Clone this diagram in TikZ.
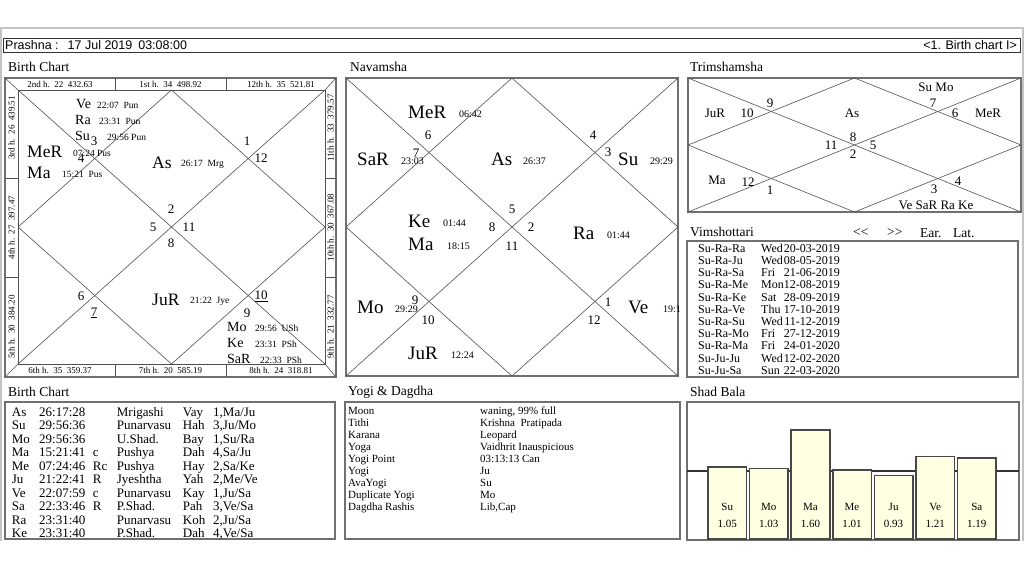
\documentclass[tikz,border=0pt]{standalone}
\usepackage{fontspec}
\setmainfont{Liberation Serif}
\newfontfamily\barfont{Liberation Sans}
\definecolor{winframe}{HTML}{C4C4C4}
\definecolor{boxgray}{HTML}{707070}
\definecolor{chartline}{HTML}{505050}
\definecolor{balafill}{HTML}{FFFFE2}
\newcommand{\fsz}[2]{\fontsize{#1}{#2}\selectfont}

\begin{document}
\begin{tikzpicture}[
  x=1pt, y=-1pt,
  txt/.style={inner sep=0pt, anchor=west},
  paneltitle/.style={txt, font=\fsz{13.5}{15}},
  hnum/.style={inner sep=0pt, font=\fsz{13}{13}},
  grah/.style={txt, font=\fsz{14}{14}},
  biggrah/.style={txt, font=\fsz{17.5}{17.5}},
  navgrah/.style={txt, font=\fsz{19}{19}},
  deg/.style={txt, font=\fsz{9.5}{9.5}},
  strip/.style={inner sep=0pt, font=\fsz{9}{9}},
  cell/.style={inner sep=0pt, anchor=base west},
  tabbox/.style={draw=boxgray, line width=1.3pt},
  chartbox/.style={draw=boxgray, line width=2pt},
  cline/.style={draw=chartline, line width=0.6pt},
  balabar/.style={draw=black!72, line width=1.6pt, fill=balafill}
]
\useasboundingbox (0,0) rectangle (1024,576);
% ---- window frame and top bar ----
\draw[winframe, line width=1.5pt] (1,541) -- (1,28) -- (1023,28) -- (1023,541);
\draw[black!80, line width=0.8pt] (3,38) rectangle (1020,52);
\node[txt, font=\barfont\fsz{12.5}{12.5}] (prashna) at (5,45)
  {Prashna :\hspace{9pt}17 Jul 2019\hspace{6pt}03:08:00};
\node[txt, anchor=east, font=\barfont\fsz{12.5}{12.5}] (chartsel) at (1017,45)
  {<1. Birth chart I>};

% ---- birth chart (rasi) ----
\node[paneltitle] (d1title) at (8,67) {Birth Chart};
\draw[chartbox] (5,78) rectangle (336,377);
\draw[draw=chartline, line width=0.9pt] (18,90) rectangle (325,364);
\draw[cline] (5,78) -- (18,90) (336,78) -- (325,90)
  (5,377) -- (18,364) (336,377) -- (325,364);
\draw[cline] (115,78) -- (115,90) (226,78) -- (226,90)
  (115,364) -- (115,377) (226,364) -- (226,377);
\draw[cline] (5,178) -- (18,178) (5,277) -- (18,277)
  (325,178) -- (336,178) (325,277) -- (336,277);
\draw[cline] (18,90) -- (325,364) (325,90) -- (18,364);
\draw[cline] (171.5,90) -- (325,227) -- (171.5,364) -- (18,227) -- cycle;
\foreach \nm/\x/\t in {2/60/2nd h.~~22~~432.63, 1/170.5/1st h.~~34~~498.92,
    12/281/12th h.~~35~~521.81}
  \node[strip] (d1top\nm) at (\x,84.5) {\t};
\foreach \nm/\x/\t in {6/60/6th h.~~35~~359.37, 7/170.5/7th h.~~20~~585.19,
    8/281/8th h.~~24~~318.81}
  \node[strip] (d1bot\nm) at (\x,370.5) {\t};
\foreach \nm/\y/\t in {3/128/3rd h.~~26~~439.51, 4/227.5/4th h.~~27~~397.47,
    5/327/5th h.~~30~~384.20}
  \node[strip, rotate=90] (d1lft\nm) at (11.5,\y) {\t};
\foreach \nm/\y/\t in {11/128/11th h.~~33~~379.57, 10/227.5/10th h.~~30~~367.08,
    9/327/9th h.~~21~~332.77}
  \node[strip, rotate=90] (d1rgt\nm) at (330.5,\y) {\t};
\foreach \nm/\x/\y/\t in {1/247/141/1, 12/261/158/12, 3/94/141/3, 4/81/158/4,
    2/171/209/2, 5/153/227/5, 11/189/227/11, 8/171/243/8,
    6/81/296/6, 7/94/313/\underline{7}, 10/261/296/\underline{10}, 9/247/313/9}
  \node[hnum] (d1h\nm) at (\x,\y) {\t};
\foreach \nm/\x/\y/\g/\dx/\d in {ve/76/104/Ve/97/22:07~~Pun,
    ra/75/120/Ra/99/23:31~~Pun, su/75/136/Su/107/29:56~Pun,
    mo/227/327/Mo/255/29:56~~USh, ke/227/343/Ke/255/23:31~~PSh,
    sa/227/359/SaR/260/22:33~~PSh}
{
  \node[grah] (d1\nm) at (\x,\y) {\g};
  \node[deg] (d1\nm deg) at (\dx,\y+1) {\d};
}
\foreach \nm/\x/\y/\g/\dx/\d in {me/27/152/MeR/73/07:24~Pus,
    ma/27/173/Ma/62/15:21~~Pus, as/152/163/As/181/26:17~~Mrg,
    ju/152/300/JuR/190/21:22~~Jye}
{
  \node[biggrah] (d1\nm) at (\x,\y) {\g};
  \node[deg] (d1\nm deg) at (\dx,\y+1) {\d};
}

% ---- navamsha ----
\node[paneltitle] (d9title) at (350,67) {Navamsha};
\draw[chartbox] (346,78) rectangle (678,376);
\draw[cline] (346,78) -- (678,376) (678,78) -- (346,376);
\draw[cline] (512,78) -- (678,227) -- (512,376) -- (346,227) -- cycle;
\foreach \nm/\x/\y in {6/428/135, 7/416/153, 4/593/135, 3/608/152,
    5/512/209, 8/492/227, 2/531/227, 11/512/246,
    9/415/300, 10/428/320, 1/608/302, 12/594/320}
  \node[hnum] (d9h\nm) at (\x,\y) {\nm};
\foreach \nm/\x/\y/\g/\dx/\d in {me/408/112/MeR/459/06:42,
    sa/357/159/SaR/401/23:03, as/491/159/As/523/26:37,
    su/618/159/Su/650/29:29, ke/408/221/Ke/443/01:44,
    ma/408/244/Ma/447/18:15, ra/573/233/Ra/607/01:44,
    mo/357/307/Mo/395/29:29, ve/628/307/Ve/663/19:1,
    ju/408/353/JuR/451/12:24}
{
  \node[navgrah] (d9\nm) at (\x,\y) {\g};
  \node[deg, font=\fsz{10}{10}] (d9\nm deg) at (\dx,\y+2) {\d};
}

% ---- trimshamsha ----
\node[paneltitle] (d30title) at (690,67) {Trimshamsha};
\draw[chartbox] (688,78) rectangle (1021,212);
\draw[cline] (688,78) -- (1021,212) (1021,78) -- (688,212);
\draw[cline] (854.5,78) -- (1021,145) -- (854.5,212) -- (688,145) -- cycle;
\foreach \nm/\x/\y/\t in {sumo/936/87/Su Mo, jur/715/113/JuR, h10/747/113/10,
    h9/770/103/9, as/852/113/As, h7/933/103/7, h6/955/113/6,
    mer/988/113/MeR, h8/853/137/8, h11/831/145/11, h5/873/145/5,
    h2/853/154/2, ma/717/180/Ma, h12/748/182/12, h1/770/190/1,
    h3/934/189/3, h4/958/181/4, rest/936/205/Ve SaR Ra Ke}
  \node[hnum] (d30\nm) at (\x,\y) {\t};

% ---- vimshottari ----
\node[paneltitle] (vimtitle) at (690,232) {Vimshottari};
\node[paneltitle] (vimprev) at (853,233) {<{}<};
\node[paneltitle] (vimnext) at (887,233) {>{}>};
\node[paneltitle] (vimear) at (920,233) {Ear.};
\node[paneltitle] (vimlat) at (953,233) {Lat.};
\draw[tabbox] (687,241) rectangle (1018,377);
\foreach \d/\w/\dt [count=\i from 0] in {Su-Ra-Ra/Wed/20-03-2019,
    Su-Ra-Ju/Wed/08-05-2019, Su-Ra-Sa/Fri/21-06-2019, Su-Ra-Me/Mon/12-08-2019,
    Su-Ra-Ke/Sat/28-09-2019, Su-Ra-Ve/Thu/17-10-2019, Su-Ra-Su/Wed/11-12-2019,
    Su-Ra-Mo/Fri/27-12-2019, Su-Ra-Ma/Fri/24-01-2020, Su-Ju-Ju/Wed/12-02-2020,
    Su-Ju-Sa/Sun/22-03-2020}
{
  \node[cell, font=\fsz{12}{12}] (vimdasa\i) at (698,252.2+12.2*\i) {\d};
  \node[cell, font=\fsz{12}{12}] (vimday\i) at (761,252.2+12.2*\i) {\w};
  \node[cell, anchor=base east, font=\fsz{12}{12}] (vimdate\i) at (840,252.2+12.2*\i) {\dt};
}

% ---- birth chart table ----
\node[paneltitle] (tabtitle) at (8,392) {Birth Chart};
\draw[tabbox] (5,402) rectangle (335,539);
\foreach \g/\l/\f/\n/\s/\pa/\pb/\pc [count=\i from 0] in {
    As/26:17:28/{}/Mrigashi/Vay/1/Ma/Ju, Su/29:56:36/{}/Punarvasu/Hah/3/Ju/Mo,
    Mo/29:56:36/{}/U.Shad./Bay/1/Su/Ra, Ma/15:21:41/c/Pushya/Dah/4/Sa/Ju,
    Me/07:24:46/Rc/Pushya/Hay/2/Sa/Ke, Ju/21:22:41/R/Jyeshtha/Yah/2/Me/Ve,
    Ve/22:07:59/c/Punarvasu/Kay/1/Ju/Sa, Sa/22:33:46/R/P.Shad./Pah/3/Ve/Sa,
    Ra/23:31:40/{}/Punarvasu/Koh/2/Ju/Sa, Ke/23:31:40/{}/P.Shad./Dah/4/Ve/Sa}
{
  \begin{scope}[every node/.style={cell, font=\fsz{13}{13}}]
    \node (tabg\i) at (11.7,416+13.5*\i) {\g};
    \node (tabl\i) at (39,416+13.5*\i) {\l};
    \node (tabf\i) at (92.7,416+13.5*\i) {\f};
    \node (tabn\i) at (116.7,416+13.5*\i) {\n};
    \node (tabs\i) at (182.7,416+13.5*\i) {\s};
    \node (tabp\i) at (213,416+13.5*\i) {\pa,\pb/\pc};
  \end{scope}
}

% ---- yogi & dagdha ----
\node[paneltitle] (yogititle) at (348,392) {Yogi \& Dagdha};
\draw[tabbox] (345,402) rectangle (680,539);
\foreach \k/\v [count=\i from 0] in {Moon/{waning, 99\% full},
    Tithi/Krishna~~Pratipada, Karana/Leopard, Yoga/Vaidhrit Inauspicious,
    Yogi Point/03:13:13 Can, Yogi/Ju, AvaYogi/Su, Duplicate Yogi/Mo,
    Dagdha Rashis/{Lib,Cap}}
{
  \node[cell, font=\fsz{11}{11}] (yogikey\i) at (348,414.5+12*\i) {\k};
  \node[cell, font=\fsz{11}{11}] (yogival\i) at (480,414.5+12*\i) {\v};
}

% ---- shad bala ----
\node[paneltitle] (balatitle) at (690,392) {Shad Bala};
\draw[tabbox] (687,402) rectangle (1019,540);
\draw[black!80, line width=1.8pt] (687,470.7) -- (1019,470.7);
\foreach \nm/\v [count=\i from 0] in {Su/1.05, Mo/1.03, Ma/1.60, Me/1.01,
    Ju/0.93, Ve/1.21, Sa/1.19}
{
  \draw[balabar] (708+41.6*\i,539) rectangle (746.5+41.6*\i,539-68.3*\v);
  \node[inner sep=0pt, font=\fsz{11}{11}] (bala\nm) at (727.2+41.6*\i,507) {\nm};
  \node[inner sep=0pt, font=\fsz{11}{11}] (bala\nm val) at (727.2+41.6*\i,524) {\v};
}
\end{tikzpicture}
\end{document}
